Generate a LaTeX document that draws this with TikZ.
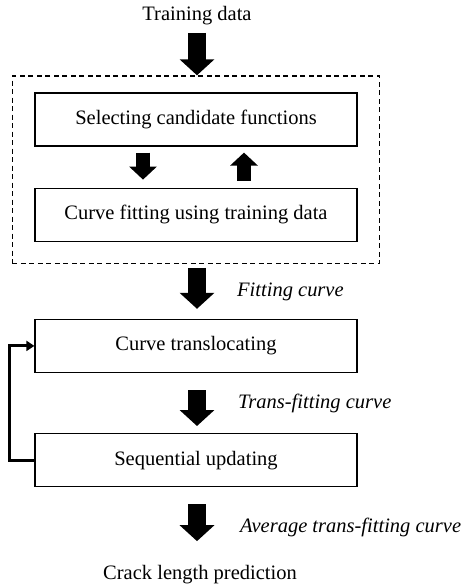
\documentclass[tikz,border=0pt]{standalone}
\usepackage{fontspec}
\setmainfont{Liberation Serif}
\usetikzlibrary{arrows.meta,positioning,fit}

\begin{document}
\begin{tikzpicture}[x=1pt, y=-1pt, font=\fontsize{20.5}{24}\selectfont]
\tikzstyle{block} = [rectangle, draw, line width=1.2pt, minimum width=322pt, minimum height=53pt]
\tikzstyle{dashbox} = [rectangle, draw, line width=1.2pt, dash pattern=on 5pt off 3.5pt, inner xsep=22pt, inner ysep=19pt]
\tikzstyle{bigarrow} = [line width=18pt, -{Triangle[length=16pt, width=34pt]}]
\tikzstyle{smallarrow} = [line width=14pt, -{Triangle[length=13pt, width=27pt]}]
\tikzstyle{feedback} = [line width=3pt, -{Triangle[length=8pt, width=10pt]}]
\tikzstyle{caption} = [font=\fontsize{20.5}{24}\selectfont\itshape, anchor=west, inner sep=0pt]

\useasboundingbox (0,0) rectangle (466,587);

% Input data
\node (train) at (197,15.5) {Training data};

% Fitting stage inside the dashed frame
\node [block] (select) at (196,119.5) {Selecting candidate functions};
\node [block, below=41pt of select] (fitcurve) {Curve fitting using training data};
\node [dashbox, fit=(select) (fitcurve), yshift=-2.5pt] (stage) {};

% Translocating and updating
\node [block, below=77pt of fitcurve] (transl) {Curve translocating};
\node [block, below=60pt of transl] (seq) {Sequential updating};

% Output
\node (pred) at (200,575) {Crack length prediction};

% Intermediate results
\node [caption] (fitlabel) at (237,292) {Fitting curve};
\node [caption] (translabel) at (238,403) {Trans-fitting curve};
\node [caption] (avglabel) at (240,527) {Average trans-fitting curve};

% Main flow
\draw [bigarrow, shorten <=4.5pt] (train.south) -- (train.south |- stage.north);
\draw [bigarrow, shorten <=4pt, shorten >=10pt] (stage.south -| train) -- (transl.north -| train);
\draw [bigarrow, shorten <=17pt, shorten >=7pt] (transl.south -| train) -- (seq.north -| train);
\draw [bigarrow, shorten <=17pt, shorten >=21pt] (seq.south -| train) -- (pred.north -| train);

% Iteration between the two inner steps
\draw [smallarrow, shorten <=6pt, shorten >=8pt] ([xshift=-53pt]select.south) -- ([xshift=-53pt]fitcurve.north);
\draw [smallarrow, shorten <=7pt, shorten >=6pt] ([xshift=48pt]fitcurve.north) -- ([xshift=48pt]select.south);

% Feedback loop
\draw [feedback] (seq.west) -- ++(-25pt,0) |- (transl.west);

\end{tikzpicture}
\end{document}
